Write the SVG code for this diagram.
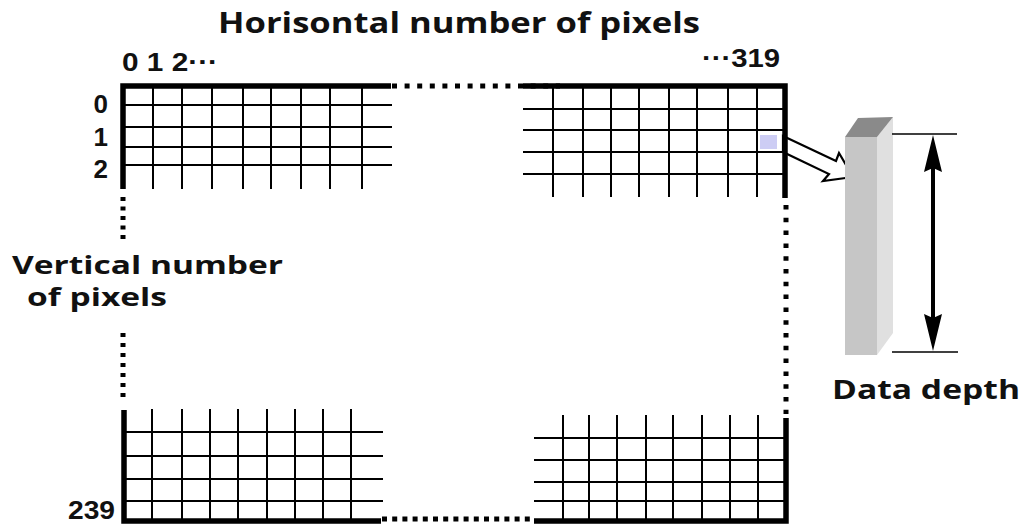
<svg xmlns="http://www.w3.org/2000/svg" width="1029" height="525" viewBox="0 0 1029 525">
<style>
.thick{fill:none;stroke:#000;stroke-width:5.5;stroke-linejoin:miter}
.thin{stroke:#000;stroke-width:2}
.dot{stroke:#000;stroke-width:5;fill:none}
.lbl{font-family:"Open Sans","Liberation Sans",sans-serif;font-weight:700;fill:#111}
.num{font-family:"Liberation Sans",Arial,sans-serif;font-weight:bold;fill:#111}
</style>
<rect width="1029" height="525" fill="#fff"/>
<g id="connectors">
<line class="dot" x1="392" y1="86" x2="560" y2="86" stroke-dasharray="5 7.6"/>
<line class="dot" x1="382" y1="519" x2="534" y2="519" stroke-dasharray="5 5.2"/>
<line class="dot" x1="123" y1="197" x2="123" y2="243" stroke-dasharray="4 5.5"/>
<line class="dot" x1="123" y1="333" x2="123" y2="402" stroke-dasharray="4 6"/>
<line class="dot" x1="786" y1="205" x2="786" y2="414" stroke-dasharray="4.5 8.3"/>
</g>
<g id="grid-top-left">
<g class="thin">
<line x1="123" y1="105" x2="392" y2="105"/>
<line x1="123" y1="127" x2="392" y2="127"/>
<line x1="123" y1="147" x2="392" y2="147"/>
<line x1="123" y1="165" x2="392" y2="165"/>
<line x1="153" y1="86" x2="153" y2="189"/>
<line x1="182" y1="86" x2="182" y2="189"/>
<line x1="212" y1="86" x2="212" y2="189"/>
<line x1="243" y1="86" x2="243" y2="189"/>
<line x1="271" y1="86" x2="271" y2="189"/>
<line x1="301" y1="86" x2="301" y2="189"/>
<line x1="330" y1="86" x2="330" y2="189"/>
<line x1="362" y1="86" x2="362" y2="189"/>
</g>
<polyline class="thick" points="123,189 123,86 391,86"/>
</g>
<g id="grid-top-right">
<rect x="760" y="135" width="17" height="14" fill="#cdcdf4"/>
<g class="thin">
<line x1="523" y1="109" x2="785" y2="109"/>
<line x1="523" y1="130" x2="785" y2="130"/>
<line x1="523" y1="152" x2="785" y2="152"/>
<line x1="523" y1="174" x2="785" y2="174"/>
<line x1="553" y1="86" x2="553" y2="197"/>
<line x1="583" y1="86" x2="583" y2="197"/>
<line x1="611" y1="86" x2="611" y2="197"/>
<line x1="639" y1="86" x2="639" y2="197"/>
<line x1="669" y1="86" x2="669" y2="197"/>
<line x1="697" y1="86" x2="697" y2="197"/>
<line x1="728" y1="86" x2="728" y2="197"/>
<line x1="757" y1="86" x2="757" y2="197"/>
</g>
</g>
<g id="pointer-arrow">
<polygon points="783,136 836,161 839,153 853,177 823,181 829,174 783,152" fill="#fff" stroke="#000" stroke-width="2.2" stroke-linejoin="miter"/>
</g>
<g id="grid-top-right-border">
<polyline class="thick" points="523,86 785,86 785,198"/>
</g>
<g id="grid-bottom-left">
<g class="thin">
<line x1="124" y1="432" x2="383" y2="432"/>
<line x1="124" y1="456" x2="383" y2="456"/>
<line x1="124" y1="479" x2="383" y2="479"/>
<line x1="124" y1="501" x2="383" y2="501"/>
<line x1="152" y1="409" x2="152" y2="521"/>
<line x1="182" y1="409" x2="182" y2="521"/>
<line x1="210" y1="409" x2="210" y2="521"/>
<line x1="238" y1="409" x2="238" y2="521"/>
<line x1="267" y1="409" x2="267" y2="521"/>
<line x1="295" y1="409" x2="295" y2="521"/>
<line x1="323" y1="409" x2="323" y2="521"/>
<line x1="351" y1="409" x2="351" y2="521"/>
</g>
<polyline class="thick" points="124,410 124,521 381,521"/>
</g>
<g id="grid-bottom-right">
<g class="thin">
<line x1="534" y1="438" x2="786" y2="438"/>
<line x1="534" y1="460" x2="786" y2="460"/>
<line x1="534" y1="482" x2="786" y2="482"/>
<line x1="534" y1="501" x2="786" y2="501"/>
<line x1="563" y1="415" x2="563" y2="521"/>
<line x1="589" y1="415" x2="589" y2="521"/>
<line x1="617" y1="415" x2="617" y2="521"/>
<line x1="646" y1="415" x2="646" y2="521"/>
<line x1="673" y1="415" x2="673" y2="521"/>
<line x1="702" y1="415" x2="702" y2="521"/>
<line x1="730" y1="415" x2="730" y2="521"/>
<line x1="758" y1="415" x2="758" y2="521"/>
</g>
<polyline class="thick" points="534,521 786,521 786,418"/>
</g>
<g id="depth-column">
<polygon points="845,137 877,137 877,355 845,355" fill="#c6c6c6"/>
<polygon points="877,137 893,117 893,333 877,355" fill="#e0e0e0"/>
<polygon points="845,137 858,118 893,117 877,137" fill="#8a8a8a"/>
</g>
<g id="depth-dimension">
<line x1="892" y1="134" x2="957" y2="134" stroke="#000" stroke-width="1.6"/>
<line x1="892" y1="352" x2="958" y2="352" stroke="#000" stroke-width="1.6"/>
<line x1="933" y1="160" x2="933" y2="326" stroke="#000" stroke-width="4"/>
<polygon points="933,135 942,172 933,168 924,172" fill="#000"/>
<polygon points="933,351 942,314 933,318 924,314" fill="#000"/>
</g>
<g id="labels">
<text class="lbl" x="218" y="33" font-size="29" textLength="482" lengthAdjust="spacingAndGlyphs">Horisontal  number of pixels</text>
<text class="num" x="122" y="71" font-size="25" textLength="96" lengthAdjust="spacingAndGlyphs">0 1 2···</text>
<text class="num" x="702" y="67" font-size="26" textLength="78" lengthAdjust="spacingAndGlyphs">···319</text>
<text class="num" x="108" y="113" font-size="26" text-anchor="end">0</text>
<text class="num" x="108" y="146" font-size="26" text-anchor="end">1</text>
<text class="num" x="108" y="178" font-size="26" text-anchor="end">2</text>
<text class="num" x="68" y="519" font-size="25" textLength="47" lengthAdjust="spacingAndGlyphs">239</text>
<text class="lbl" x="12" y="274" font-size="25" textLength="271" lengthAdjust="spacingAndGlyphs">Vertical number</text>
<text class="lbl" x="27" y="306" font-size="25" textLength="140" lengthAdjust="spacingAndGlyphs">of pixels</text>
<text class="lbl" x="832" y="399" font-size="27" textLength="188" lengthAdjust="spacingAndGlyphs">Data depth</text>
</g>
</svg>
